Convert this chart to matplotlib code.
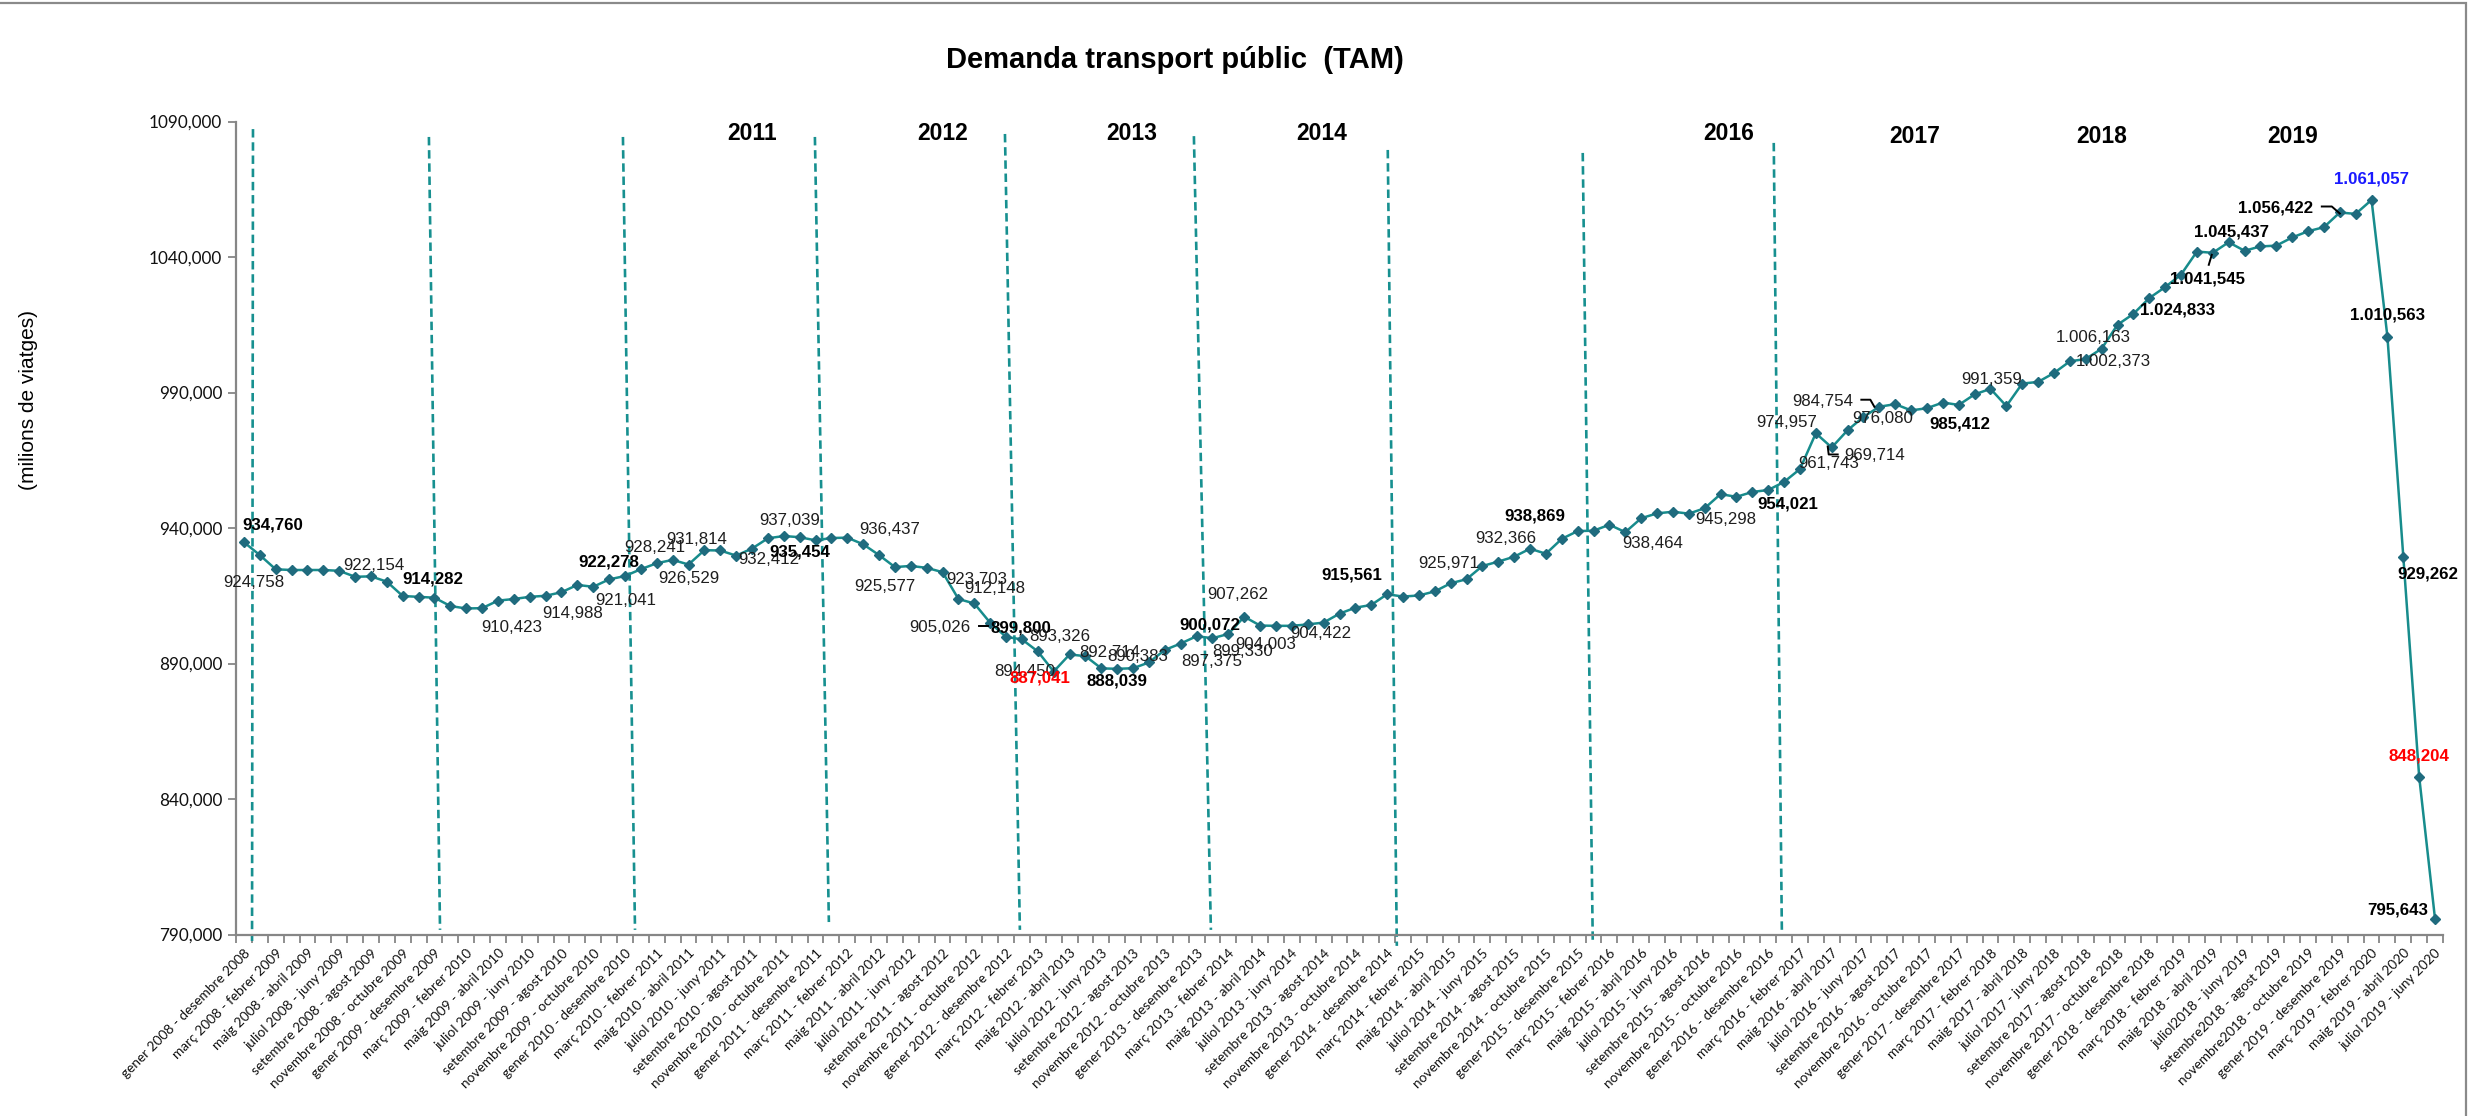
import numpy as np
import matplotlib
matplotlib.use('Agg')
import matplotlib.pyplot as plt
from matplotlib.transforms import Affine2D, ScaledTranslation
from matplotlib.patches import Rectangle

TITLE = "Demanda transport públic  (TAM)"
YLABEL = "(milions de viatges)"

# rolling 12-month totals (milions de viatges), Dec 2008 ... Jun 2020
VALUES = [
    934.760, 930.0, 924.758, 924.5, 924.5, 924.5, 924.2, 922.0, 922.154, 920.2,
    914.9, 914.6, 914.282, 911.2, 910.3, 910.423, 913.2, 913.8, 914.6, 914.988,
    916.3, 919.0, 918.3, 921.041, 922.278, 924.8, 927.0, 928.241, 926.529, 931.814,
    931.7, 929.8, 932.412, 936.2, 937.039, 936.6, 935.454, 936.3, 936.437, 934.0,
    930.0, 925.577, 926.0, 925.3, 923.703, 913.8, 912.148, 905.026, 899.800, 898.9,
    894.450, 887.041, 893.326, 892.714, 888.2, 888.039, 888.25, 890.383, 895.0, 897.375,
    900.072, 899.330, 900.9, 907.262, 904.003, 903.9, 903.9, 904.422, 905.1, 908.4,
    910.6, 911.6, 915.561, 914.7, 915.1, 916.6, 919.6, 921.1, 925.971, 927.6,
    929.4, 932.366, 930.5, 936.0, 938.869, 939.0, 941.2, 938.464, 943.6, 945.4,
    946.0, 945.298, 947.3, 952.5, 951.5, 953.3, 954.021, 957.0, 961.743, 974.957,
    969.714, 976.080, 981.0, 984.754, 985.7, 983.4, 984.2, 986.3, 985.412, 989.3,
    991.359, 985.0, 993.3, 993.9, 997.2, 1001.5, 1002.373, 1006.163, 1015.0, 1019.0,
    1024.833, 1028.9, 1033.5, 1042.0, 1041.545, 1045.437, 1042.3, 1043.9, 1044.2, 1047.2,
    1049.5, 1051.0, 1056.422, 1055.9, 1061.057, 1010.563, 929.262, 848.204, 795.643,
]

TICK_LABELS = [
    "gener 2008 - desembre 2008", "març 2008 - febrer 2009", "maig 2008 - abril 2009",
    "juliol 2008 - juny 2009", "setembre 2008 - agost 2009", "novembre 2008 - octubre 2009",
    "gener 2009 - desembre 2009", "març 2009 - febrer 2010", "maig 2009 - abril 2010",
    "juliol 2009 - juny 2010", "setembre 2009 - agost 2010", "novembre 2009 - octubre 2010",
    "gener 2010 - desembre 2010", "març 2010 - febrer 2011", "maig 2010 - abril 2011",
    "juliol 2010 - juny 2011", "setembre 2010 - agost 2011", "novembre 2010 - octubre 2011",
    "gener 2011 - desembre 2011", "març 2011 - febrer 2012", "maig 2011 - abril 2012",
    "juliol 2011 - juny 2012", "setembre 2011 - agost 2012", "novembre 2011 - octubre 2012",
    "gener 2012 - desembre 2012", "març 2012 - febrer 2013", "maig 2012 - abril 2013",
    "juliol 2012 - juny 2013", "setembre 2012 - agost 2013", "novembre 2012 - octubre 2013",
    "gener 2013 - desembre 2013", "març 2013 - febrer 2014", "maig 2013 - abril 2014",
    "juliol 2013 - juny 2014", "setembre 2013 - agost 2014", "novembre 2013 - octubre 2014",
    "gener 2014 - desembre 2014", "març 2014 - febrer 2015", "maig 2014 - abril 2015",
    "juliol 2014 - juny 2015", "setembre 2014 - agost 2015", "novembre 2014 - octubre 2015",
    "gener 2015 - desembre 2015", "març 2015 - febrer 2016", "maig 2015 - abril 2016",
    "juliol 2015 - juny 2016", "setembre 2015 - agost 2016", "novembre 2015 - octubre 2016",
    "gener 2016 - desembre 2016", "març 2016 - febrer 2017", "maig 2016 - abril 2017",
    "juliol 2016 - juny 2017", "setembre 2016 - agost 2017", "novembre 2016 - octubre 2017",
    "gener 2017 - desembre 2017", "març 2017 - febrer 2018", "maig 2017 - abril 2018",
    "juliol 2017 - juny 2018", "setembre 2017 - agost 2018", "novembre 2017 - octubre 2018",
    "gener 2018 - desembre 2018", "març 2018 - febrer 2019", "maig 2018 - abril 2019",
    "juliol2018 - juny 2019", "setembre2018 - agost 2019", "novembre2018 - octubre 2019",
    "gener 2019 - desembre 2019", "març 2019 - febrer 2020", "maig 2019 - abril 2020",
    "juliol 2019 - juny 2020",
]

YEAR_TEXTS = ["2011", "2012", "2013", "2014", "2016", "2017", "2018", "2019"]
YEAR_X = [32.0, 44.0, 55.9, 67.9, 93.5, 105.2, 117.0, 129.0]
YEAR_Y = [1085.4, 1085.4, 1085.4, 1085.4, 1085.4, 1084.3, 1084.3, 1084.3]

# year separators (top x, top y, bottom x, bottom y) in category / value units
SEPARATORS = [
    (0.57, 1087.2, 0.51, 787.6), (11.65, 1084.3, 12.35, 791.7),
    (23.87, 1084.3, 24.63, 791.7), (35.96, 1084.3, 36.84, 794.6),
    (47.93, 1085.4, 48.87, 791.7), (59.83, 1084.6, 60.90, 791.7),
    (72.04, 1079.5, 72.61, 785.8), (84.32, 1078.4, 84.95, 787.6),
    (96.35, 1082.1, 96.86, 791.7),
]

# labelled points: index, pixel offset (dx, dy down), style
LABELS = [
    (0, 29, -17, 'b'), (2, -22, 13, 'n'), (8, 3, -11, 'n'), (12, -2, -19, 'b'),
    (15, 30, 19, 'n'), (19, 27, 18, 'n'), (23, 17, 21, 'n'), (24, -16, -14, 'b'),
    (27, -18, -12, 'n'), (28, 0, 14, 'n'), (29, -8, -11, 'n'), (32, 17, 11, 'n'),
    (34, 6, -16, 'n'), (36, -16, 12, 'b'), (38, 42, -8, 'n'), (41, -10, 19, 'n'),
    (44, 34, 7, 'n'), (46, 20, -15, 'n'), (47, -50, 5, 'n'), (48, 15, -9, 'b'),
    (50, -13, 20, 'n'), (51, -14, 6, 'r'), (52, -10, -18, 'n'), (53, 24, -4, 'n'),
    (55, 0, 12, 'b'), (57, -11, -6, 'n'), (59, 31, 18, 'n'), (60, 13, -11, 'b'),
    (61, 30, 13, 'n'), (63, -6, -22, 'n'), (64, 6, 19, 'n'), (67, 13, 9, 'n'),
    (72, -35, -19, 'b'), (78, -34, -3, 'n'), (81, -24, -10, 'n'), (84, -43, -15, 'b'),
    (87, 27, 11, 'n'), (91, 37, 6, 'n'), (96, 20, 14, 'b'), (98, 29, -6, 'n'),
    (99, -29, -11, 'n'), (100, 43, 8, 'n'), (101, 35, -12, 'n'), (103, -57, -5, 'n'),
    (108, 1, 19, 'b'), (110, 1, -9, 'n'), (116, 28, 3, 'n'), (117, -8, -11, 'n'),
    (120, 28, 12, 'b'), (124, -5, 26, 'b'), (125, 3, -10, 'b'), (132, -64, -4, 'b'),
    (134, 0, -21, 'm'), (135, 0, -22, 'b'), (136, 25, 17, 'b'), (137, 0, -21, 'r'),
    (138, -37, -9, 'b'),
]

LEADERS = {
    48: [(-27, -11), (-18, -11)],
    100: [(-4, -1), (-3, 7), (6, 7)],
    103: [(-18, -7), (-9, -7), (-5, 0)],
    124: [(-4, 12), (-1, 2)],
    132: [(-18, -6), (-8, -6), (0, 1)],
}

LINE_COLOR = '#178c8c'
MARKER_COLOR = '#1f6b7e'
SEP_COLOR = '#179090'
AXIS_GRAY = '#868686'


def fmt_value(v):
    s = f"{v:.3f}"
    ip, dec = s.split('.')
    ip = f"{int(ip):,}".replace(',', '.')
    return ip + ',' + dec


W, H = 2473, 1116
fig = plt.figure(figsize=(W / 100, H / 100), dpi=100)
left_px, right_px, top_px, bot_px = 236, 2443, 121.5, 934.5
ax = fig.add_axes([left_px / W, 1 - bot_px / H, (right_px - left_px) / W, (bot_px - top_px) / H])

x = np.arange(len(VALUES))
ax.plot(x, VALUES, color=LINE_COLOR, lw=1.8, marker='D', markersize=5.4,
        markerfacecolor=MARKER_COLOR, markeredgecolor=MARKER_COLOR, zorder=3, clip_on=False)

ax.set_xlim(-0.5, len(VALUES) - 0.5)
ax.set_ylim(790, 1090)
ax.set_yticks(np.arange(790, 1091, 50))
ax.set_yticklabels([f"{v:.3f}".replace('.', ',') for v in np.arange(790, 1091, 50)],
                   fontsize=12.3, family='Lato', color='#111111')

ax.set_xticks(np.arange(0, len(VALUES), 2))
ax.set_xticklabels(TICK_LABELS, rotation=45, ha='right', va='top', rotation_mode='anchor',
                   fontsize=9.8, family='Lato', color='#111111')
ax.set_xticks(np.arange(-0.5, len(VALUES), 1), minor=True)
ax.tick_params(axis='x', which='major', length=0, pad=9)
ax.tick_params(axis='x', which='minor', length=6, width=1.3, color=AXIS_GRAY, direction='out')
ax.tick_params(axis='y', length=6, width=1.3, color=AXIS_GRAY, direction='out', pad=4)

for s in ['top', 'right']:
    ax.spines[s].set_visible(False)
for s in ['left', 'bottom']:
    ax.spines[s].set_color(AXIS_GRAY)
    ax.spines[s].set_linewidth(1.6)

# year separators
for (xt, yt, xb, yb) in SEPARATORS:
    ax.plot([xt, xb], [yt, yb], color=SEP_COLOR, lw=1.9, linestyle=(0, (3.2, 1.8)),
            clip_on=False, zorder=2)

# year labels
for t, xx, yy in zip(YEAR_TEXTS, YEAR_X, YEAR_Y):
    ax.text(xx, yy, t, fontsize=16.5, fontweight='bold', family='Liberation Sans',
            ha='center', va='center', color='black', clip_on=False)

# data labels
styles = {
    'n': dict(color='#1e1e1e', fontweight='normal'),
    'b': dict(color='black', fontweight='bold'),
    'r': dict(color='#ff0000', fontweight='bold'),
    'm': dict(color='#1a1aff', fontweight='bold'),
}
for idx, dx, dy, st in LABELS:
    ax.annotate(fmt_value(VALUES[idx]), xy=(idx, VALUES[idx]), xytext=(dx, -dy),
                textcoords='offset pixels', ha='center', va='center', fontsize=12.2,
                family='Liberation Sans', annotation_clip=False, zorder=5, **styles[st])

for idx, pts in LEADERS.items():
    tr = Affine2D().scale(1, -1) + ScaledTranslation(idx, VALUES[idx], ax.transData)
    px = [p[0] for p in pts]
    py = [p[1] for p in pts]
    ax.plot(px, py, color='black', lw=1.4, transform=tr, clip_on=False, zorder=4)

fig.text(1175 / W, 1 - 60 / H, TITLE, fontsize=21, fontweight='bold',
         family='Liberation Sans', ha='center', va='center')
fig.text(29 / W, 1 - 400 / H, YLABEL, rotation=90, fontsize=15,
         family='Liberation Sans', ha='center', va='center')

fig.patches.append(Rectangle((-0.01, -0.01), 2466 / W + 0.01, 1 - 2.5 / H + 0.01,
                             transform=fig.transFigure, fill=False,
                             edgecolor='#8a8a8a', lw=1.6))

fig.savefig('out.png', dpi=100, facecolor='white')
